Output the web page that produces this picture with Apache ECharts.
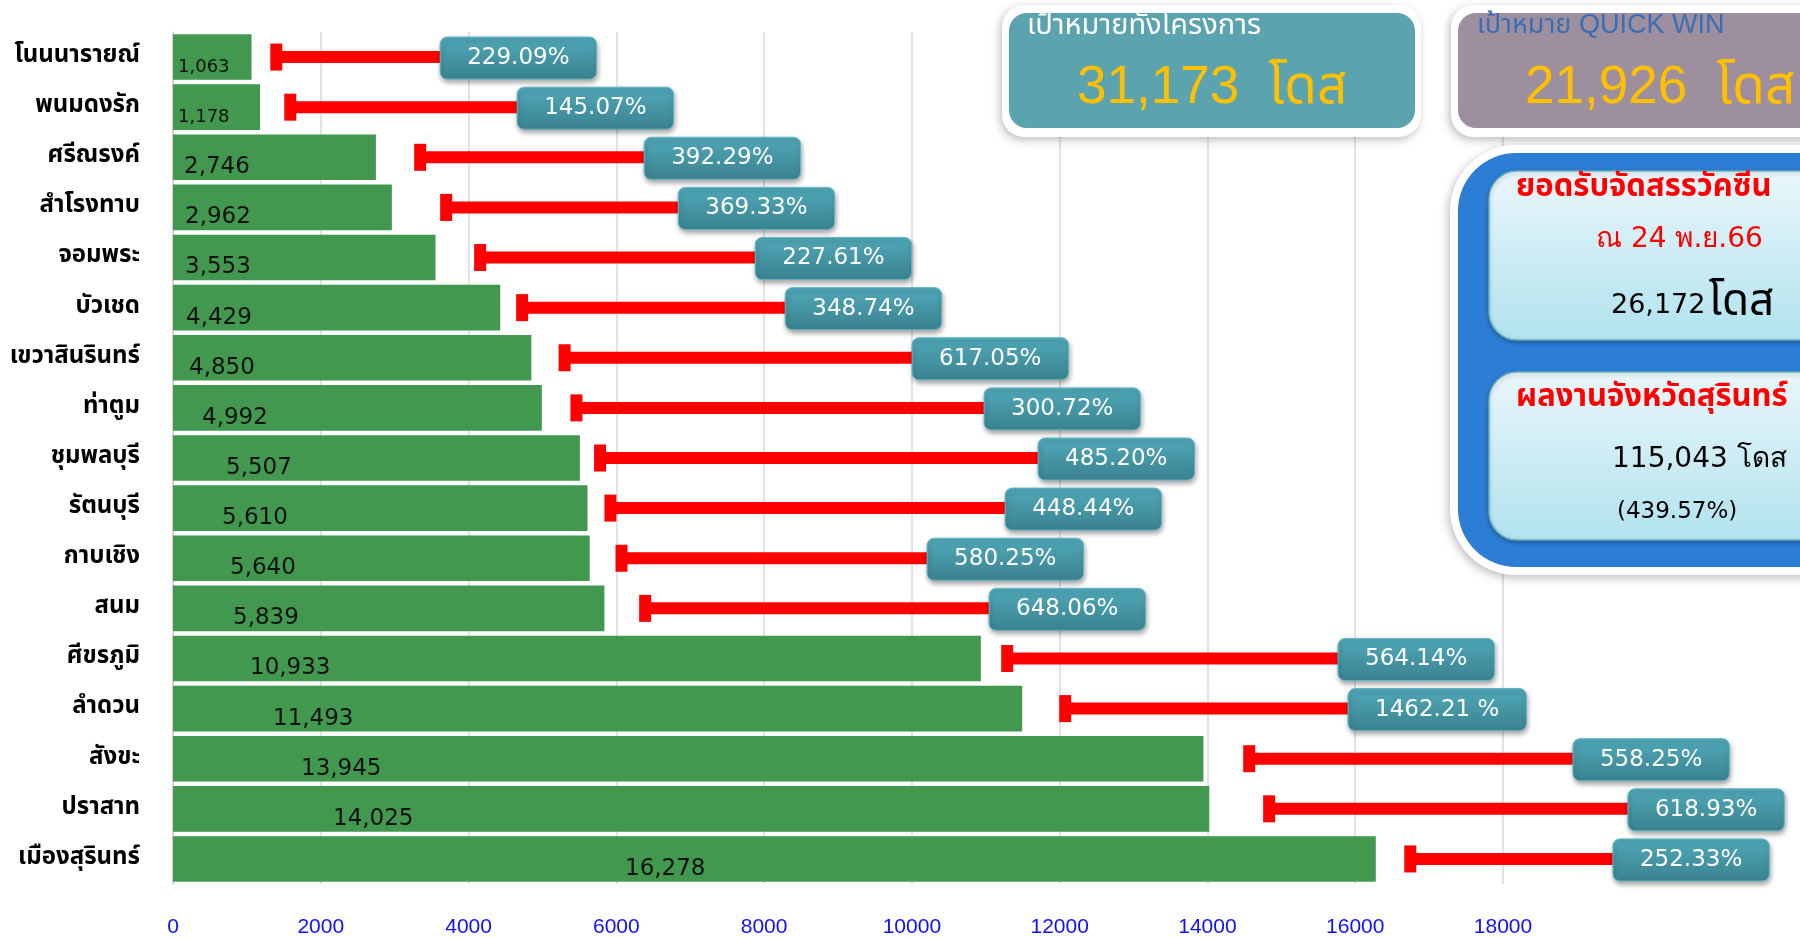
<!DOCTYPE html>
<html>
<head>
<meta charset="utf-8">
<title>ผลงานฉีดวัคซีนรายอำเภอ</title>
<script src="https://cdn.jsdelivr.net/npm/echarts@6/dist/echarts.min.js"></script>
<style>
  html, body { margin: 0; padding: 0; background: #ffffff; }
  #chart { width: 1800px; height: 938px; }
</style>
</head>
<body>
<div id="chart"></div>
<script>
// Districts, top to bottom
const districts = [
  'โนนนารายณ์', 'พนมดงรัก', 'ศรีณรงค์', 'สำโรงทาบ', 'จอมพระ', 'บัวเชด',
  'เขวาสินรินทร์', 'ท่าตูม', 'ชุมพลบุรี', 'รัตนบุรี', 'กาบเชิง', 'สนม',
  'ศีขรภูมิ', 'ลำดวน', 'สังขะ', 'ปราสาท', 'เมืองสุรินทร์'
];

// Doses given per district
const doses = [1063, 1178, 2746, 2962, 3553, 4429, 4850, 4992, 5507, 5610, 5640, 5839,
               10933, 11493, 13945, 14025, 16278];

// Achievement against target, as printed
const percentLabels = [
  '229.09%', '145.07%', '392.29%', '369.33%', '227.61%', '348.74%',
  '617.05%', '300.72%', '485.20%', '448.44%', '580.25%', '648.06%',
  '564.14%', '1462.21 %', '558.25%', '618.93%', '252.33%'
];

// Red callout leaders: capped start and end (at the percentage tag), in dose units
const leaderStart = [1398, 1587, 3345, 3697, 4157, 4725, 5300, 5460, 5780, 5920, 6070, 6390,
                     11290, 12075, 14565, 14835, 16745];
const leaderEnd = [3616, 4658, 6377, 6838, 7880, 8286, 10003, 10977, 11708, 11262, 10206, 11045,
                   15767, 15903, 18947, 19691, 19488];

// Value axis ticks
const xTicks = [0, 2000, 4000, 6000, 8000, 10000, 12000, 14000, 16000, 18000];

// Summary panel figures
const projectTarget = '31,173';
const quickWinTarget = '21,926';
const allocated = '26,172';
const allocatedDate = 'ณ 24 พ.ย.66';
const provinceTotal = '115,043';
const provincePercent = '(439.57%)';

// Label styling: horizontal inset of each dose label inside its bar (px)
const doseLabelInset = [5, 5, 11, 12, 12, 13, 16, 29, 53, 49, 57, 60, 77, 100, 128, 160, 452];

const NUM_FONT = '"DejaVu Sans", "Noto Sans", sans-serif';
const THAI_FONT = 'Tahoma, "Noto Sans Thai", "Noto Sans Thai Looped", "Noto Sans", sans-serif';
const PCT_FONT = '23px ' + NUM_FONT;

const measureCtx = document.createElement('canvas').getContext('2d');
function textWidth(str, font) {
  measureCtx.font = font;
  return measureCtx.measureText(str).width;
}
function fmt(n) {
  return n.toLocaleString('en-US');
}

const chart = echarts.init(document.getElementById('chart'), null, { renderer: 'canvas' });

const barData = doses.map(function (v, i) {
  return {
    value: v,
    label: {
      position: [doseLabelInset[i], '50%'],
      offset: [0, 10],
      fontSize: i < 2 ? 18 : 23
    }
  };
});

const leaderData = districts.map(function (d, i) {
  return [i, leaderStart[i], leaderEnd[i]];
});

const tagGradient = new echarts.graphic.LinearGradient(0, 0, 0, 1, [
  { offset: 0, color: '#50a9b9' },
  { offset: 1, color: '#3a8290' }
]);

function renderLeader(params, api) {
  const i = params.dataIndex;
  const row = api.value(0);
  const a = api.coord([api.value(1), row]);
  const b = api.coord([api.value(2), row]);
  const cy = a[1];
  const label = percentLabels[i];
  const bw = textWidth(label, PCT_FONT) + 54;
  const bh = 42;
  return {
    type: 'group',
    children: [
      {
        type: 'rect',
        shape: { x: a[0], y: cy - 6, width: b[0] - a[0], height: 12 },
        style: { fill: '#ff0000' }
      },
      {
        type: 'rect',
        shape: { x: a[0] - 6, y: cy - 13.5, width: 12, height: 27 },
        style: { fill: '#ff0000' }
      },
      {
        type: 'rect',
        shape: { x: b[0], y: cy - bh / 2 + 1, width: bw, height: bh, r: 7 },
        style: {
          fill: tagGradient,
          stroke: '#62b4c3',
          lineWidth: 1,
          shadowBlur: 5,
          shadowOffsetX: 1,
          shadowOffsetY: 3,
          shadowColor: 'rgba(0,0,0,0.35)'
        }
      },
      {
        type: 'text',
        style: {
          text: label,
          x: b[0] + bw / 2,
          y: cy + 1,
          align: 'center',
          verticalAlign: 'middle',
          textAlign: 'center',
          textVerticalAlign: 'middle',
          fill: '#ffffff',
          font: PCT_FONT
        }
      }
    ]
  };
}

const cardGradient = new echarts.graphic.LinearGradient(0, 0, 0, 1, [
  { offset: 0, color: '#e9f7fb' },
  { offset: 1, color: '#b1e2ee' }
]);

function txt(x, y, text, fill, font, z) {
  return {
    type: 'text', x: 0, y: 0, z: z || 110,
    style: {
      text: text, x: x, y: y, fill: fill, font: font,
      align: 'left', verticalAlign: 'middle',
      textAlign: 'left', textVerticalAlign: 'middle'
    }
  };
}

const graphics = [
  // project target box
  { type: 'rect', z: 100, shape: { x: 1002, y: 5, width: 419, height: 132, r: 22 },
    style: { fill: '#ffffff', shadowBlur: 8, shadowOffsetX: -2, shadowOffsetY: 3, shadowColor: 'rgba(0,0,0,0.25)' } },
  { type: 'rect', z: 101, shape: { x: 1009, y: 13, width: 406, height: 115, r: 18 },
    style: { fill: '#5ba3ae' } },
  txt(1027, 26, 'เป้าหมายทั้งโครงการ', '#ffffff', '29px "Liberation Sans", ' + THAI_FONT),
  txt(1077, 88, projectTarget + '  โดส', '#ffc000', '53px "Liberation Sans", ' + THAI_FONT),

  // quick win target box
  { type: 'rect', z: 100, shape: { x: 1451, y: 5, width: 420, height: 132, r: 22 },
    style: { fill: '#ffffff', shadowBlur: 8, shadowOffsetX: -2, shadowOffsetY: 3, shadowColor: 'rgba(0,0,0,0.25)' } },
  { type: 'rect', z: 101, shape: { x: 1458, y: 13, width: 410, height: 115, r: 18 },
    style: { fill: '#9d8f9d' } },
  txt(1477, 26, 'เป้าหมาย QUICK WIN', '#3a6db5', '27px "Liberation Sans", ' + THAI_FONT),
  txt(1525, 88, quickWinTarget + '  โดส', '#ffc000', '53px "Liberation Sans", ' + THAI_FONT),

  // blue results panel
  { type: 'rect', z: 100, shape: { x: 1450, y: 145, width: 420, height: 430, r: 66 },
    style: { fill: '#ffffff', shadowBlur: 8, shadowOffsetX: -2, shadowOffsetY: 3, shadowColor: 'rgba(0,0,0,0.25)' } },
  { type: 'rect', z: 101, shape: { x: 1458, y: 153, width: 410, height: 414, r: 58 },
    style: { fill: '#2b7dd5' } },
  { type: 'rect', z: 102, shape: { x: 1489, y: 171, width: 380, height: 169, r: 28 },
    style: { fill: cardGradient, stroke: '#6aaebd', lineWidth: 1.5, shadowBlur: 4, shadowOffsetY: 2, shadowColor: 'rgba(0,0,0,0.25)' } },
  { type: 'rect', z: 102, shape: { x: 1489, y: 372, width: 380, height: 168, r: 28 },
    style: { fill: cardGradient, stroke: '#6aaebd', lineWidth: 1.5, shadowBlur: 4, shadowOffsetY: 2, shadowColor: 'rgba(0,0,0,0.25)' } },
  txt(1516, 190, 'ยอดรับจัดสรรวัคซีน', '#ff0000', 'bold 31px ' + THAI_FONT),
  txt(1596, 240, allocatedDate, '#ff0000', '28px ' + NUM_FONT),
  {
    type: 'text', z: 110,
    style: {
      x: 1611, y: 306, align: 'left', verticalAlign: 'middle',
      textAlign: 'left', textVerticalAlign: 'middle',
      text: '{n|' + allocated + '} {u|โดส}',
      rich: {
        n: { fontSize: 27, fontFamily: NUM_FONT, fill: '#000', color: '#000' },
        u: { fontSize: 44, fontFamily: THAI_FONT, fill: '#000', color: '#000' }
      }
    }
  },
  txt(1516, 400, 'ผลงานจังหวัดสุรินทร์', '#ff0000', 'bold 31px ' + THAI_FONT),
  txt(1612, 460, provinceTotal + ' โดส', '#000000', '28px ' + NUM_FONT),
  txt(1617, 512, provincePercent, '#000000', '23px ' + NUM_FONT)
];

chart.setOption({
  animation: false,
  backgroundColor: '#ffffff',
  grid: { left: 173, right: 297, top: 32, bottom: 54, containLabel: false },
  xAxis: {
    type: 'value',
    min: xTicks[0],
    max: xTicks[xTicks.length - 1],
    interval: xTicks[1] - xTicks[0],
    axisLine: { show: false },
    axisTick: { show: false },
    axisLabel: {
      color: '#1010ff',
      fontSize: 21,
      fontFamily: '"Liberation Sans", Arial, sans-serif',
      margin: 33,
      formatter: function (v) { return String(v); }
    },
    splitLine: { show: true, lineStyle: { color: '#d9d9d9', width: 1.5 } }
  },
  yAxis: {
    type: 'category',
    data: districts,
    inverse: true,
    axisLine: { show: true, lineStyle: { color: '#d0d0d0', width: 1.5 } },
    axisTick: { show: false },
    axisLabel: {
      color: '#000000',
      fontSize: 24,
      fontWeight: 'bold',
      fontFamily: THAI_FONT,
      margin: 33
    }
  },
  series: [
    {
      name: 'โดส',
      type: 'bar',
      data: barData,
      barCategoryGap: '9%',
      itemStyle: { color: '#41984e' },
      label: {
        show: true,
        align: 'left',
        verticalAlign: 'middle',
        color: '#111111',
        fontFamily: NUM_FONT,
        formatter: function (p) { return fmt(p.value); }
      },
      z: 2
    },
    {
      name: 'ร้อยละ',
      type: 'custom',
      data: leaderData,
      encode: { x: [1, 2], y: 0 },
      renderItem: renderLeader,
      clip: false,
      z: 5
    }
  ],
  graphic: { elements: graphics }
});
</script>
</body>
</html>
